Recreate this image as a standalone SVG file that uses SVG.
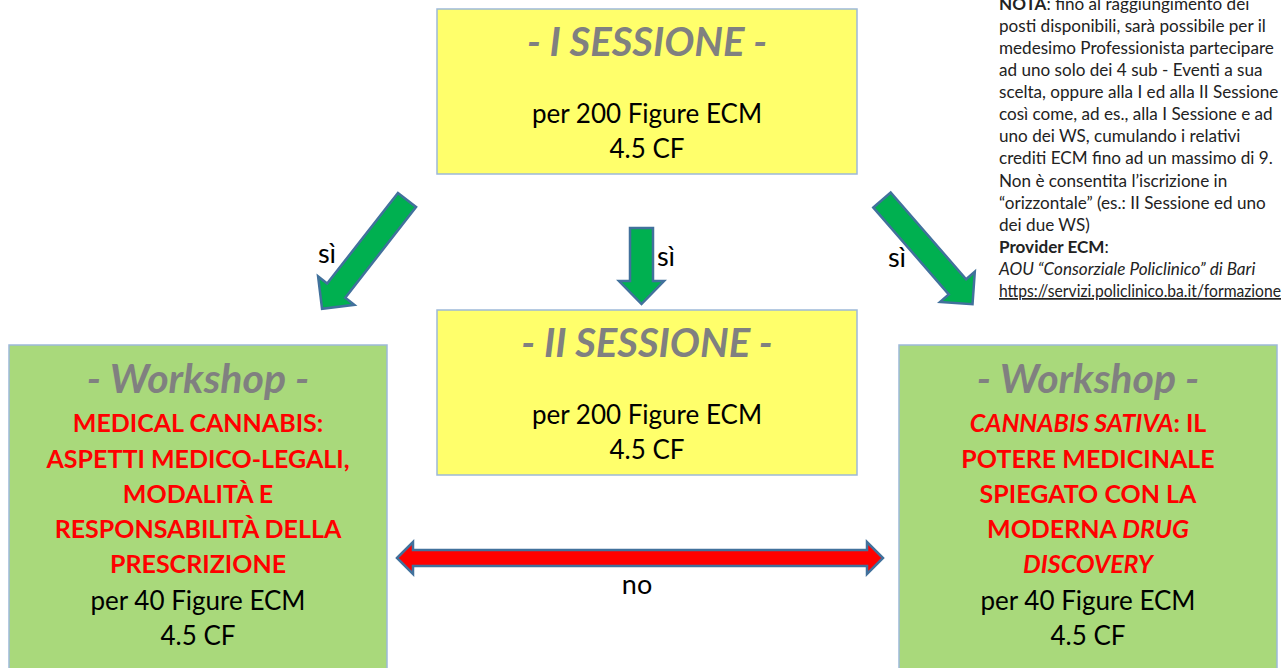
<svg xmlns="http://www.w3.org/2000/svg" width="1285" height="668" viewBox="0 0 1285 668">
<style>
.box{stroke:#9DB9D9;stroke-width:1.5}
.yel{fill:#FFFF6B}
.grn{fill:#A9D97B}
.t{font-family:Lato,"Liberation Sans",sans-serif;text-anchor:middle}
.title{font-size:40px;font-weight:bold;font-style:italic;fill:#808080}
.wt{font-size:41px}
.body{font-size:26px;fill:#000}
.red{font-size:25px;font-weight:bold;fill:#FF0000}
.note{font-family:Lato,"Liberation Sans",sans-serif;font-size:17.1px;fill:#222}
.lbl{font-family:Lato,"Liberation Sans",sans-serif;font-size:27px;fill:#000;text-anchor:middle}
.ga{fill:#00B050;stroke:#41719C;stroke-width:2.5;stroke-linejoin:miter}
.ra{fill:#FF0000;stroke:#41719C;stroke-width:2.5}
</style>
<defs>
<polygon id="diagArrow" points="-11.5,0 11.5,0 11.5,115 23,115 0,138 -23,115 -11.5,115"/>
</defs>
<rect width="1285" height="668" fill="#FFFFFF"/>

<g id="sessione1">
<rect class="box yel" x="437" y="9" width="420" height="165"/>
<text class="t title" x="647" y="56">- I SESSIONE -</text>
<text class="t body" x="647" y="123">per 200 Figure ECM</text>
<text class="t body" x="647" y="158">4.5 CF</text>
</g>

<g id="sessione2">
<rect class="box yel" x="437" y="310" width="420" height="165"/>
<text class="t title" x="647" y="357">- II SESSIONE -</text>
<text class="t body" x="647" y="424">per 200 Figure ECM</text>
<text class="t body" x="647" y="459">4.5 CF</text>
</g>

<g id="workshop1">
<rect class="box grn" x="9" y="345" width="378" height="340"/>
<text class="t title wt" x="198" y="393">- Workshop -</text>
<text class="t red" x="198" y="432">MEDICAL CANNABIS:</text>
<text class="t red" x="198" y="468">ASPETTI MEDICO-LEGALI,</text>
<text class="t red" x="198" y="503">MODALITÀ E</text>
<text class="t red" x="198" y="538">RESPONSABILITÀ DELLA</text>
<text class="t red" x="198" y="573">PRESCRIZIONE</text>
<text class="t body" x="198" y="610">per 40 Figure ECM</text>
<text class="t body" x="198" y="645">4.5 CF</text>
</g>

<g id="workshop2">
<rect class="box grn" x="899" y="345" width="378" height="340"/>
<text class="t title wt" x="1088" y="393">- Workshop -</text>
<text class="t red" x="1088" y="432"><tspan font-style="italic">CANNABIS SATIVA</tspan>: IL</text>
<text class="t red" x="1088" y="468">POTERE MEDICINALE</text>
<text class="t red" x="1088" y="503">SPIEGATO CON LA</text>
<text class="t red" x="1088" y="538">MODERNA <tspan font-style="italic">DRUG</tspan></text>
<text class="t red" x="1088" y="573" font-style="italic">DISCOVERY</text>
<text class="t body" x="1088" y="610">per 40 Figure ECM</text>
<text class="t body" x="1088" y="645">4.5 CF</text>
</g>

<g id="nota">
<text class="note" x="999" y="10"><tspan font-weight="bold">NOTA</tspan>: fino al raggiungimento dei</text>
<text class="note" x="999" y="32">posti disponibili, sarà possibile  per il</text>
<text class="note" x="999" y="54">medesimo Professionista partecipare</text>
<text class="note" x="999" y="76">ad uno solo dei 4 sub - Eventi a sua</text>
<text class="note" x="999" y="98">scelta, oppure alla I ed alla II Sessione</text>
<text class="note" x="999" y="120">così come, ad es., alla I Sessione e ad</text>
<text class="note" x="999" y="142">uno dei WS, cumulando i relativi</text>
<text class="note" x="999" y="164">crediti ECM fino ad un massimo di 9.</text>
<text class="note" x="999" y="187">Non è consentita l’iscrizione in</text>
<text class="note" x="999" y="209">“orizzontale” (es.: II Sessione ed uno</text>
<text class="note" x="999" y="231">dei due WS)</text>
<text class="note" x="999" y="253" font-weight="bold">Provider ECM<tspan font-weight="normal">:</tspan></text>
<text class="note" x="999" y="275" font-style="italic">AOU “Consorziale Policlinico” di Bari</text>
<text class="note" x="999" y="297" fill="#0000FF" text-decoration="underline" textLength="282" lengthAdjust="spacingAndGlyphs">https://servizi.policlinico.ba.it/formazione</text>
</g>

<g id="connectors">
<use href="#diagArrow" class="ga" transform="translate(407,200) rotate(38)"/>
<polygon class="ga" points="630,228 653,228 653,281 664,281 641.5,304 619,281 630,281"/>
<use href="#diagArrow" class="ga" transform="translate(882,200) rotate(-41)"/>
<polygon class="ra" points="397,558 413,542 413,550 867,550 867,542 883,558 867,574 867,566 413,566 413,574"/>
<text class="lbl" x="327" y="263">sì</text>
<text class="lbl" x="666" y="266">sì</text>
<text class="lbl" x="897" y="267">sì</text>
<text class="lbl" x="637" y="594">no</text>
</g>
</svg>
